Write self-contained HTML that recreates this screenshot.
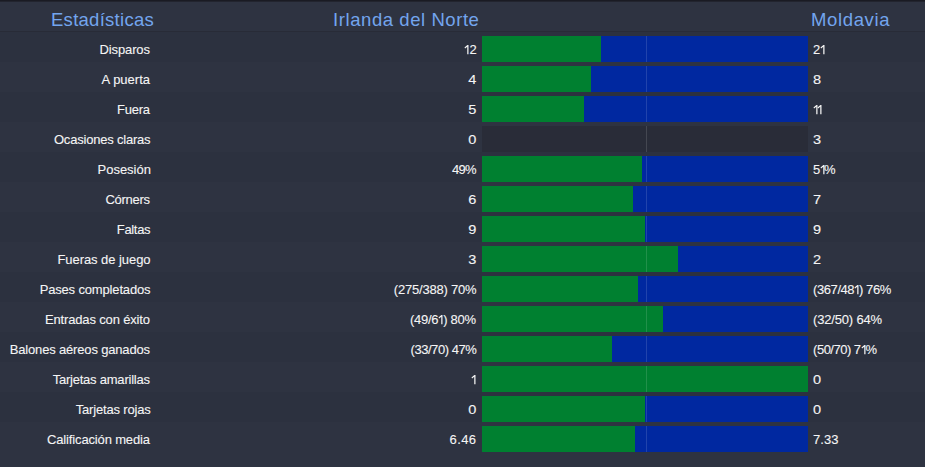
<!DOCTYPE html>
<html><head><meta charset="utf-8"><title>Estadísticas</title>
<style>
html,body{margin:0;padding:0;}
body{width:925px;height:467px;background:#2e3341;overflow:hidden;position:relative;font-family:"Liberation Sans",sans-serif;}
.top{position:absolute;left:0;top:0;width:925px;height:1px;background:#1a1b23;}
.top2{position:absolute;left:0;top:1px;width:925px;height:1px;background:#22242e;}
.hl{position:absolute;left:0;top:31px;width:925px;height:1px;background:#282b37;}
.h{position:absolute;top:8px;height:24px;line-height:24px;font-size:18.5px;color:#73a5ee;white-space:nowrap;}
.row{position:absolute;left:0;width:925px;height:30px;}
.odd{background:#2c313f;}
.t{position:absolute;top:3px;height:30px;line-height:30px;font-size:13px;color:#f5f5f5;-webkit-text-stroke:0.1px #f5f5f5;white-space:nowrap;}
.n{display:inline-block;vertical-align:baseline;fill:#f5f5f5;overflow:visible;}
.bar{position:absolute;left:482px;top:4px;width:326px;height:26px;background:#0028a0;}
.g{position:absolute;left:0;top:0;height:26px;background:#008030;}
.e{background:#292c38;}
.c{position:absolute;left:164px;top:0;width:1px;height:26px;background:rgba(255,255,255,0.13);}
</style></head><body>
<div class="top"></div><div class="top2"></div>
<div class="h" style="left:51.00px;letter-spacing:0.270px;">Estadísticas</div>
<div class="h" style="right:446.12px;margin-right:-0.56px;letter-spacing:0.562px;">Irlanda del Norte</div>
<div class="h" style="left:811.00px;letter-spacing:0.643px;">Moldavia</div>
<div class="hl"></div>
<div class="row odd" style="top:32px"><div class="t" style="right:775.00px;margin-right:0.10px;letter-spacing:-0.103px;">Disparos</div><div class="t" style="right:448.20px;margin-right:-0.00px;"><svg class="n" style="margin-right:0.000px" width="5.3" height="9.3" viewBox="0 0 5.3 9.3"><path d="M3.4 0H4.5V9.3H3.25V1.8L1.15 3.4L0.45 2.45Z"/></svg>2</div><div class="bar"><div class="g" style="width:119px"></div><div class="c"></div></div><div class="t" style="left:813.10px;">2<svg class="n" style="margin-right:0.000px" width="5.3" height="9.3" viewBox="0 0 5.3 9.3"><path d="M3.4 0H4.5V9.3H3.25V1.8L1.15 3.4L0.45 2.45Z"/></svg></div></div>
<div class="row" style="top:62px"><div class="t" style="right:775.00px;margin-right:-0.00px;">A puerta</div><div class="t" style="right:449.00px;margin-right:-0.00px;transform:scaleX(1.12);transform-origin:right center;">4</div><div class="bar"><div class="g" style="width:109px"></div><div class="c"></div></div><div class="t" style="left:813.10px;transform:scaleX(1.12);transform-origin:left center;">8</div></div>
<div class="row odd" style="top:92px"><div class="t" style="right:775.00px;margin-right:0.27px;letter-spacing:-0.270px;">Fuera</div><div class="t" style="right:449.00px;margin-right:-0.00px;transform:scaleX(1.12);transform-origin:right center;">5</div><div class="bar"><div class="g" style="width:102px"></div><div class="c"></div></div><div class="t" style="left:813.10px;letter-spacing:-0.990px;"><svg class="n" style="margin-right:-0.990px" width="5.3" height="9.3" viewBox="0 0 5.3 9.3"><path d="M3.4 0H4.5V9.3H3.25V1.8L1.15 3.4L0.45 2.45Z"/></svg><svg class="n" style="margin-right:-0.990px" width="5.3" height="9.3" viewBox="0 0 5.3 9.3"><path d="M3.4 0H4.5V9.3H3.25V1.8L1.15 3.4L0.45 2.45Z"/></svg></div></div>
<div class="row" style="top:122px"><div class="t" style="right:774.44px;margin-right:0.20px;letter-spacing:-0.204px;">Ocasiones claras</div><div class="t" style="right:449.00px;margin-right:-0.00px;transform:scaleX(1.12);transform-origin:right center;">0</div><div class="bar e"><div class="c"></div></div><div class="t" style="left:813.10px;transform:scaleX(1.12);transform-origin:left center;">3</div></div>
<div class="row odd" style="top:152px"><div class="t" style="right:774.04px;margin-right:-0.00px;">Posesión</div><div class="t" style="right:448.52px;margin-right:0.72px;letter-spacing:-0.720px;">49%</div><div class="bar"><div class="g" style="width:160px"></div><div class="c"></div></div><div class="t" style="left:813.10px;letter-spacing:-0.810px;">5<svg class="n" style="margin-right:-0.810px" width="5.3" height="9.3" viewBox="0 0 5.3 9.3"><path d="M3.4 0H4.5V9.3H3.25V1.8L1.15 3.4L0.45 2.45Z"/></svg>%</div></div>
<div class="row" style="top:182px"><div class="t" style="right:775.00px;margin-right:0.27px;letter-spacing:-0.270px;">Córners</div><div class="t" style="right:449.00px;margin-right:-0.00px;transform:scaleX(1.12);transform-origin:right center;">6</div><div class="bar"><div class="g" style="width:151px"></div><div class="c"></div></div><div class="t" style="left:813.10px;transform:scaleX(1.12);transform-origin:left center;">7</div></div>
<div class="row odd" style="top:212px"><div class="t" style="right:774.44px;margin-right:0.32px;letter-spacing:-0.324px;">Faltas</div><div class="t" style="right:449.00px;margin-right:-0.00px;transform:scaleX(1.12);transform-origin:right center;">9</div><div class="bar"><div class="g" style="width:163px"></div><div class="c"></div></div><div class="t" style="left:813.10px;transform:scaleX(1.12);transform-origin:left center;">9</div></div>
<div class="row" style="top:242px"><div class="t" style="right:774.44px;margin-right:0.06px;letter-spacing:-0.058px;">Fueras de juego</div><div class="t" style="right:449.00px;margin-right:-0.00px;transform:scaleX(1.12);transform-origin:right center;">3</div><div class="bar"><div class="g" style="width:196px"></div><div class="c"></div></div><div class="t" style="left:813.10px;transform:scaleX(1.12);transform-origin:left center;">2</div></div>
<div class="row odd" style="top:272px"><div class="t" style="right:774.44px;margin-right:0.16px;letter-spacing:-0.158px;">Pases completados</div><div class="t" style="right:448.44px;margin-right:0.21px;letter-spacing:-0.211px;">(275/388) 70%</div><div class="bar"><div class="g" style="width:156px"></div><div class="c"></div></div><div class="t" style="left:813.10px;letter-spacing:-0.434px;">(367/48<svg class="n" style="margin-right:-0.434px" width="5.3" height="9.3" viewBox="0 0 5.3 9.3"><path d="M3.4 0H4.5V9.3H3.25V1.8L1.15 3.4L0.45 2.45Z"/></svg>) 76%</div></div>
<div class="row" style="top:302px"><div class="t" style="right:775.00px;margin-right:0.15px;letter-spacing:-0.154px;">Entradas con éxito</div><div class="t" style="right:449.00px;margin-right:0.30px;letter-spacing:-0.297px;">(49/6<svg class="n" style="margin-right:-0.297px" width="5.3" height="9.3" viewBox="0 0 5.3 9.3"><path d="M3.4 0H4.5V9.3H3.25V1.8L1.15 3.4L0.45 2.45Z"/></svg>) 80%</div><div class="bar"><div class="g" style="width:181px"></div><div class="c"></div></div><div class="t" style="left:813.10px;letter-spacing:-0.180px;">(32/50) 64%</div></div>
<div class="row odd" style="top:332px"><div class="t" style="right:775.00px;margin-right:0.17px;letter-spacing:-0.172px;">Balones aéreos ganados</div><div class="t" style="right:448.20px;margin-right:0.45px;letter-spacing:-0.450px;">(33/70) 47%</div><div class="bar"><div class="g" style="width:130px"></div><div class="c"></div></div><div class="t" style="left:813.10px;letter-spacing:-0.504px;">(50/70) 7<svg class="n" style="margin-right:-0.504px" width="5.3" height="9.3" viewBox="0 0 5.3 9.3"><path d="M3.4 0H4.5V9.3H3.25V1.8L1.15 3.4L0.45 2.45Z"/></svg>%</div></div>
<div class="row" style="top:362px"><div class="t" style="right:775.00px;margin-right:0.22px;letter-spacing:-0.222px;">Tarjetas amarillas</div><div class="t" style="right:448.60px;margin-right:-0.00px;"><svg class="n" style="margin-right:0.000px" width="5.3" height="9.3" viewBox="0 0 5.3 9.3"><path d="M3.4 0H4.5V9.3H3.25V1.8L1.15 3.4L0.45 2.45Z"/></svg></div><div class="bar"><div class="g" style="width:326px"></div><div class="c"></div></div><div class="t" style="left:813.10px;transform:scaleX(1.12);transform-origin:left center;">0</div></div>
<div class="row odd" style="top:392px"><div class="t" style="right:774.20px;margin-right:0.17px;letter-spacing:-0.166px;">Tarjetas rojas</div><div class="t" style="right:449.00px;margin-right:-0.00px;transform:scaleX(1.12);transform-origin:right center;">0</div><div class="bar"><div class="g" style="width:163px"></div><div class="c"></div></div><div class="t" style="left:813.10px;transform:scaleX(1.12);transform-origin:left center;">0</div></div>
<div class="row" style="top:422px"><div class="t" style="right:775.00px;margin-right:0.15px;letter-spacing:-0.148px;">Calificación media</div><div class="t" style="right:449.00px;margin-right:-0.36px;letter-spacing:0.360px;">6.46</div><div class="bar"><div class="g" style="width:153px"></div><div class="c"></div></div><div class="t" style="left:813.10px;">7.33</div></div>
</body></html>
